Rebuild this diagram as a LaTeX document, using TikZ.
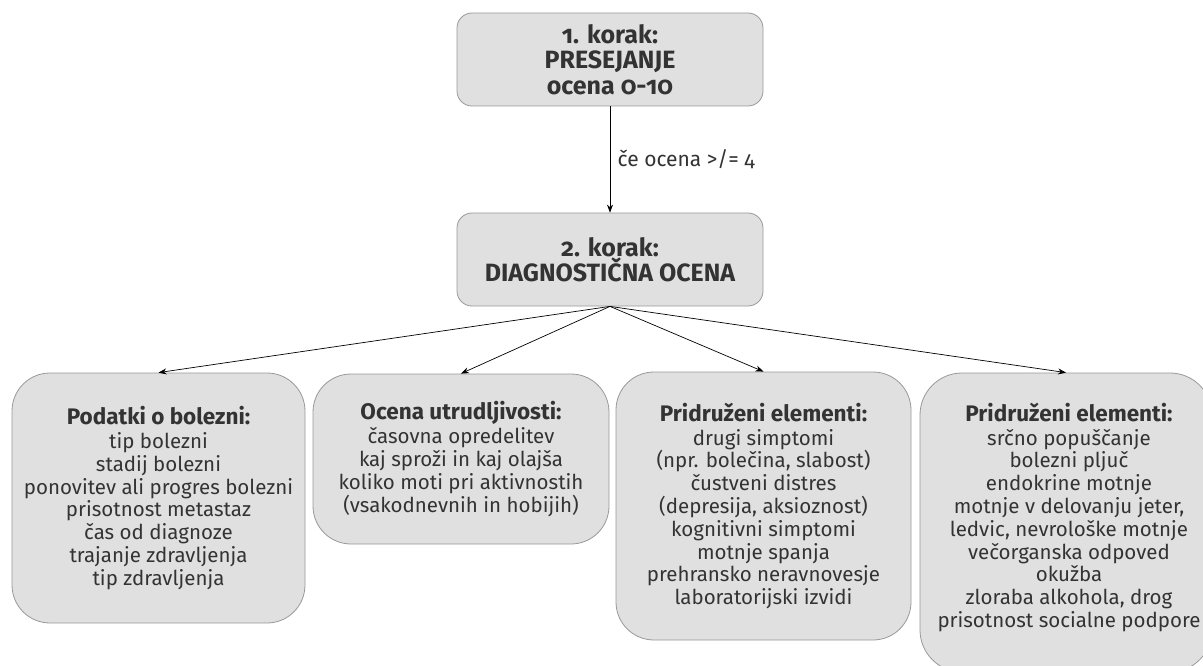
\documentclass[tikz,border=0pt]{standalone}
\usepackage{fontspec}
\setmainfont{Fira Sans}[Numbers=OldStyle]
\usetikzlibrary{arrows.meta}
\definecolor{boxfill}{HTML}{E0E0E0}
\definecolor{boxline}{HTML}{999999}
\definecolor{txt}{HTML}{333333}
\begin{document}
\begin{tikzpicture}[x=1pt,y=-1pt,
 box/.style={draw=boxline, fill=boxfill, line width=0.8pt, inner sep=0pt, align=center, text=txt},
 stepbox/.style={box, rounded corners=15pt, minimum width=306pt, minimum height=93pt, font=\bfseries\fontsize{25}{25.5}\selectfont},
 infobox/.style={box, rounded corners=38pt, font=\fontsize{20.5}{22.8}\selectfont},
 infotext/.style={inner sep=0pt, align=center, text=txt, font=\fontsize{20.5}{22.8}\selectfont},
 conn/.style={-{Stealth[length=8pt,width=6pt]}, line width=0.7pt, draw=black},
 lbl/.style={text=txt, font=\fontsize{21}{22}\selectfont},
]
\useasboundingbox (0,0) rectangle (1203,666);
\clip (0,0) rectangle (1203,666);
\fill[white] (0,0) rectangle (1203,666);

\newcommand\hd[1]{{\bfseries\fontsize{22.5}{24}\selectfont #1}\\[1pt]}

\node[stepbox] (s1) at (610,59.5) {1. korak:\\PRESEJANJE\\ocena 0-10};
\node[stepbox] (s2) at (610,259.5) {2. korak:\\DIAGNOSTIČNA OCENA};

\node[infobox, minimum width=293pt, minimum height=250pt] (a) at (158.5,498)
 {\hd{Podatki o bolezni:}
  tip bolezni\\stadij bolezni\\ponovitev ali progres bolezni\\prisotnost metastaz\\čas od diagnoze\\trajanje zdravljenja\\tip zdravljenja};
\node[infobox, minimum width=296pt, minimum height=170pt] (b) at (461,459)
 {\hd{Ocena utrudljivosti:}
  časovna opredelitev\\kaj sproži in kaj olajša\\koliko moti pri aktivnostih\\(vsakodnevnih in hobijih)};
\node[infobox, minimum width=295pt, minimum height=268pt] (c) at (763.5,506)
 {\hd{Pridruženi elementi:}
  drugi simptomi\\(npr. bolečina, slabost)\\čustveni distres\\(depresija, aksioznost)\\kognitivni simptomi\\motnje spanja\\prehransko neravnovesje\\laboratorijski izvidi};
\node[infobox, minimum width=292pt, minimum height=299pt, rounded corners=42pt] (d) at (1066,522.5) {};
\node[infotext] (dt) at ([xshift=3pt, yshift=5pt]d.center)
 {\hd{Pridruženi elementi:}
  srčno popuščanje\\bolezni pljuč\\endokrine motnje\\motnje v delovanju jeter,\\ledvic, nevrološke motnje\\večorganska odpoved\\okužba\\zloraba alkohola, drog\\prisotnost socialne podpore};

\draw[conn] (s1.south) -- node[lbl, right, xshift=4pt] (l1) {če ocena >/= 4} (s2.north);
\draw[conn] (s2.south) -- (a.north);
\draw[conn] (s2.south) -- (b.north);
\draw[conn] (s2.south) -- (c.north);
\draw[conn] (s2.south) -- (d.north);
\end{tikzpicture}
\end{document}
